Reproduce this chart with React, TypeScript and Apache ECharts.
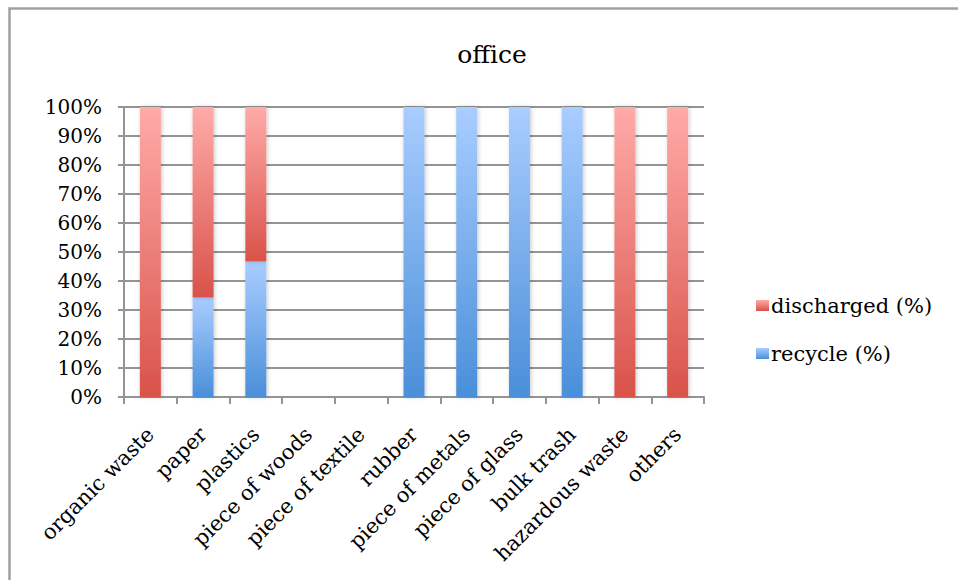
import React, { useEffect, useRef } from "react";
import * as echarts from "echarts";

const categories = [
  "organic waste",
  "paper",
  "plastics",
  "piece of woods",
  "piece of textile",
  "rubber",
  "piece of metals",
  "piece of glass",
  "bulk trash",
  "hazardous waste",
  "others",
];

// share of each waste type that is recycled / discharged, in percent
const recycle = [0, 34.3, 46.7, 0, 0, 100, 100, 100, 100, 0, 0];
const discharged = [100, 65.7, 53.3, 0, 0, 0, 0, 0, 0, 100, 100];

const FONT = "'DejaVu Serif', serif";
const GRID = "#949494";

const vgrad = (top: string, bottom: string) =>
  new echarts.graphic.LinearGradient(0, 0, 0, 1, [
    { offset: 0, color: top },
    { offset: 1, color: bottom },
  ]);

const asBar = (v: number) => (v === 0 ? null : v);

export default function App() {
  const ref = useRef<HTMLDivElement>(null);

  useEffect(() => {
    if (!ref.current) return;
    const chart = echarts.init(ref.current, null, { renderer: "svg" });
    const barStyle = {
      shadowBlur: 4,
      shadowColor: "rgba(0,0,0,0.22)",
      shadowOffsetX: 1,
      shadowOffsetY: 0,
    };
    chart.setOption({
      animation: false,
      backgroundColor: "#ffffff",
      title: {
        text: "office",
        left: 487,
        textAlign: "center",
        top: 37,
        textStyle: {
          fontFamily: FONT,
          fontSize: 25,
          fontWeight: "normal",
          color: "#000",
        },
      },
      legend: {
        orient: "vertical",
        left: 751,
        top: 290,
        itemGap: 27,
        itemWidth: 13,
        itemHeight: 11,
        icon: "rect",
        textStyle: { fontFamily: FONT, fontSize: 21, color: "#000", padding: [0, 0, 0, -3] },
        data: ["discharged (%)", "recycle (%)"],
      },
      grid: {
        left: 124,
        right: 254,
        top: 107,
        bottom: 183,
        containLabel: false,
        outerBoundsMode: "none",
      },
      xAxis: {
        type: "category",
        data: categories,
        axisLine: { show: true, lineStyle: { color: GRID, width: 2 } },
        axisTick: { show: true, length: 7, lineStyle: { color: GRID, width: 2 } },
        axisLabel: {
          rotate: 45,
          interval: 0,
          margin: 34,
          fontFamily: FONT,
          fontSize: 21,
          color: "#000",
        },
      },
      yAxis: {
        type: "value",
        min: 0,
        max: 100,
        interval: 10,
        axisLine: { show: true, lineStyle: { color: GRID, width: 2 } },
        axisTick: { show: true, length: 6, lineStyle: { color: GRID, width: 2 } },
        splitLine: { show: true, lineStyle: { color: GRID, width: 2 } },
        axisLabel: {
          formatter: "{value}%",
          margin: 22,
          fontFamily: FONT,
          fontSize: 20,
          color: "#000",
        },
      },
      graphic: [
        {
          type: "polyline",
          shape: { points: [[9.5, 580], [9.5, 8.5], [958, 8.5]] },
          style: { stroke: "#a0a0a0", lineWidth: 2.5, fill: "none" },
          silent: true,
        },
      ],
      series: [
        {
          name: "recycle (%)",
          type: "bar",
          stack: "share",
          barWidth: 21,
          data: recycle.map(asBar),
          itemStyle: { color: vgrad("#a9cdff", "#4a8fd9"), ...barStyle },
        },
        {
          name: "discharged (%)",
          type: "bar",
          stack: "share",
          barWidth: 21,
          data: discharged.map(asBar),
          itemStyle: { color: vgrad("#ffaba8", "#d9524a"), ...barStyle },
        },
      ],
    });
    return () => chart.dispose();
  }, []);

  return (
    <div
      ref={ref}
      style={{ width: 958, height: 580, position: "absolute", left: 0, top: 0 }}
    />
  );
}
